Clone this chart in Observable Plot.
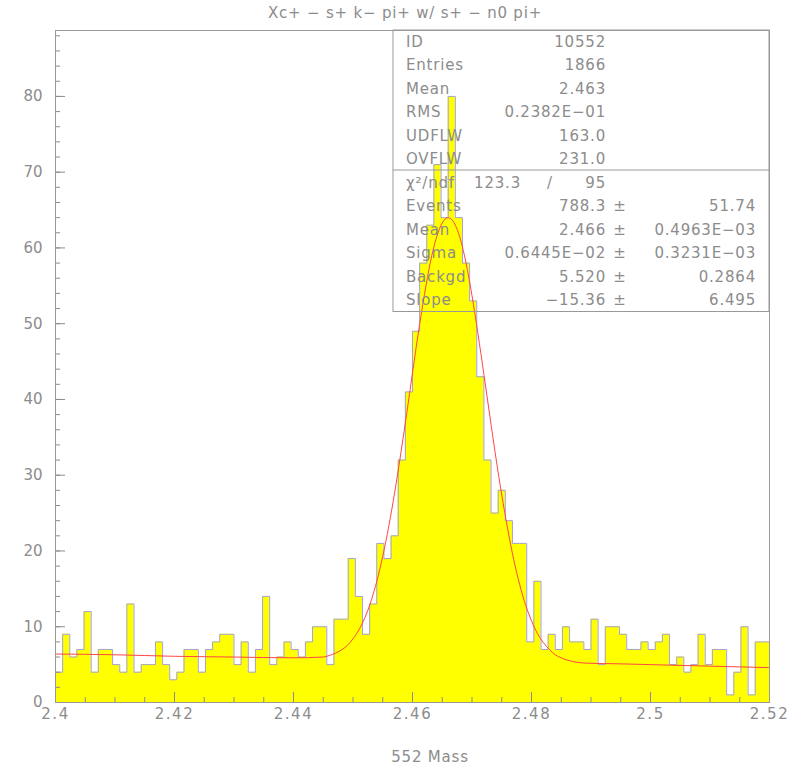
<!DOCTYPE html>
<html>
<head>
<meta charset="utf-8">
<script src="https://cdn.jsdelivr.net/npm/d3@7"></script>
<script src="https://cdn.jsdelivr.net/npm/@observablehq/plot@0.6"></script>
<style>
  body { margin: 0; background: #fff; }
  #chart { position: relative; width: 789px; height: 771px; }
</style>
</head>
<body>
<div id="chart"></div>
<script>
// ---------- data ----------
const title = "Xc+ − s+ k− pi+ w/ s+ − n0 pi+";
const xLabel = "552 Mass";
const xMin = 2.4, xMax = 2.52, nBins = 100;

// bin contents (100 bins of 0.0012)
const counts = [
  4, 9, 6, 7, 12, 4, 7, 7, 5, 4,
  13, 4, 5, 5, 8, 5, 3, 4, 7, 7,
  4, 7, 8, 9, 9, 5, 8, 4, 7, 14,
  5, 6, 8, 7, 6, 8, 10, 10, 5, 11,
  11, 19, 14, 9, 13, 21, 19, 22, 32, 41,
  49, 58, 63, 71, 64, 80, 64, 58, 53, 43,
  32, 25, 28, 24, 21, 21, 8, 16, 7, 9,
  7, 10, 8, 8, 7, 11, 5, 10, 10, 9,
  7, 7, 8, 7, 8, 9, 5, 6, 4, 5,
  9, 5, 7, 7, 1, 4, 10, 1, 8, 8
];

// fitted curve (x, y)
const fitX = [2.400, 2.410, 2.420, 2.430, 2.440, 2.445, 2.446, 2.447, 2.448, 2.449,
              2.450, 2.451, 2.452, 2.453, 2.454, 2.455, 2.456, 2.457, 2.458, 2.459,
              2.460, 2.461, 2.462, 2.463, 2.464, 2.465, 2.466, 2.467, 2.468, 2.469,
              2.470, 2.471, 2.472, 2.473, 2.474, 2.475, 2.476, 2.477, 2.478, 2.479,
              2.480, 2.481, 2.482, 2.483, 2.484, 2.485, 2.486, 2.487, 2.489, 2.495,
              2.500, 2.510, 2.520];
const fitY = [6.4, 6.3, 6.1, 6.0, 5.9, 6.0, 6.2, 6.5, 6.9, 7.5,
              8.4, 9.6, 11.2, 13.3, 16.0, 19.3, 23.2, 27.7, 32.7, 38.0,
              43.5, 48.9, 53.8, 58.1, 61.3, 63.3, 64.0, 63.3, 61.3, 58.0,
              53.7, 48.7, 43.3, 37.8, 32.4, 27.4, 22.9, 18.9, 15.6, 12.9,
              10.8, 9.1, 7.9, 7.0, 6.3, 5.9, 5.6, 5.4, 5.2, 5.1,
              5.0, 4.8, 4.6];

const xTicks = [2.4, 2.42, 2.44, 2.46, 2.48, 2.5, 2.52];
const xTickLabels = ["2.4", "2.42", "2.44", "2.46", "2.48", "2.5", "2.52"];
const yTicks = [0, 10, 20, 30, 40, 50, 60, 70, 80];

const statLabels = ["ID", "Entries", "Mean", "RMS", "UDFLW", "OVFLW"];
const statValues = ["10552", "1866", "2.463", "0.2382E−01", "163.0", "231.0"];
const chiLabel = "χ²/ndf";
const chiValue = "123.3";
const ndfValue = "95";
const fitLabels = ["Events", "Mean", "Sigma", "Backgd", "Slope"];
const fitValues = ["788.3", "2.466", "0.6445E−02", "5.520", "−15.36"];
const fitErrors = ["51.74", "0.4963E−03", "0.3231E−03", "0.2864", "6.495"];

// ---------- derived tables ----------
const binW = (xMax - xMin) / nBins;
const steps = counts.map((c, i) => ({x: xMin + i * binW, y: c}));
steps.push({x: xMax, y: counts[counts.length - 1]});
const fit = fitX.map((x, i) => ({x, y: fitY[i]}));
const minorX = d3.range(0, 25).map(i => +(xMin + i * 0.005).toFixed(3));
const minorY = d3.range(0, 45).map(i => i * 2);

// ---------- layout ----------
const W = 789, H = 771;
const mL = 55, mR = 20, mT = 30, mB = 69;
const plotH = H - mT - mB;
const yTop = 88.7;

const grey = "#8c8c8c";
const font = "DejaVu Sans, Liberation Sans, sans-serif";

const chart = Plot.plot({
  width: W,
  height: H,
  marginLeft: mL,
  marginRight: mR,
  marginTop: mT,
  marginBottom: mB,
  style: {fontFamily: font, fontSize: "15px", color: grey, background: "#fff"},
  x: {domain: [xMin, xMax]},
  y: {domain: [0, yTop]},
  marks: [
    Plot.areaY(steps, {x: "x", y: "y", curve: "step-after", fill: "#ffff00"}),
    Plot.lineY(steps, {x: "x", y: "y", curve: "step-after", stroke: "#a3a3d6", strokeWidth: 1}),
    Plot.line(fit, {x: "x", y: "y", curve: "monotone-x", stroke: "#ff4646", strokeWidth: 1}),
    // ticks inside the frame
    Plot.ruleX(minorX, {insetTop: plotH - 5, stroke: grey}),
    Plot.ruleX(xTicks, {insetTop: plotH - 10, stroke: grey}),
    Plot.ruleY(minorY.filter(v => v <= yTop), {insetRight: (W - mL - mR) - 5, stroke: grey}),
    Plot.ruleY(yTicks, {insetRight: (W - mL - mR) - 10, stroke: grey}),
    Plot.axisX({ticks: xTicks, tickSize: 0, tickPadding: 6, tickFormat: (d, i) => xTickLabels[i], label: null, fill: grey}),
    Plot.axisY({ticks: yTicks, tickSize: 0, tickPadding: 13, label: null, fill: grey}),
    Plot.frame({stroke: "#999"})
  ]
});

document.getElementById("chart").appendChild(chart);

// wider glyph spacing on tick labels, like the reference's stroke font
d3.select(chart).selectAll("[aria-label='x-axis tick label'] text").attr("letter-spacing", "1.5px");

// ---------- annotations: title, x label, statistics box ----------
const svg = d3.select(chart);
const g = svg.append("g")
  .attr("font-family", font)
  .attr("font-size", 15)
  .attr("letter-spacing", "0.8px")
  .attr("fill", grey);

g.append("text").attr("x", 405).attr("y", 13).attr("text-anchor", "middle")
  .attr("dominant-baseline", "central").text(title);
g.append("text").attr("x", 430).attr("y", 757).attr("text-anchor", "middle")
  .attr("dominant-baseline", "central").text(xLabel);

// box
const box = {x0: 393, x1: 769, y0: 30, y1: 311.5, ySplit: 170};
g.append("rect").attr("x", box.x0).attr("y", box.y0)
  .attr("width", box.x1 - box.x0).attr("height", box.y1 - box.y0)
  .attr("fill", "none").attr("stroke", "#999");
g.append("line").attr("x1", box.x0).attr("x2", box.x1)
  .attr("y1", box.ySplit).attr("y2", box.ySplit).attr("stroke", "#999");

const rowY = i => 41.7 + 23.48 * i;
const labX = 406, valX = 606, pmX = 620, errX = 756;
function t(x, y, s, anchor) {
  g.append("text").attr("x", x).attr("y", y).attr("text-anchor", anchor)
    .attr("dominant-baseline", "central").text(s);
}
statLabels.forEach((s, i) => { t(labX, rowY(i), s, "start"); t(valX, rowY(i), statValues[i], "end"); });
t(labX, rowY(6), chiLabel, "start");
t(521, rowY(6), chiValue, "end");
t(550, rowY(6), "/", "middle");
t(valX, rowY(6), ndfValue, "end");
fitLabels.forEach((s, i) => {
  const y = rowY(7 + i);
  t(labX, y, s, "start");
  t(valX, y, fitValues[i], "end");
  t(pmX, y, "±", "middle");
  t(errX, y, fitErrors[i], "end");
});
</script>
</body>
</html>
